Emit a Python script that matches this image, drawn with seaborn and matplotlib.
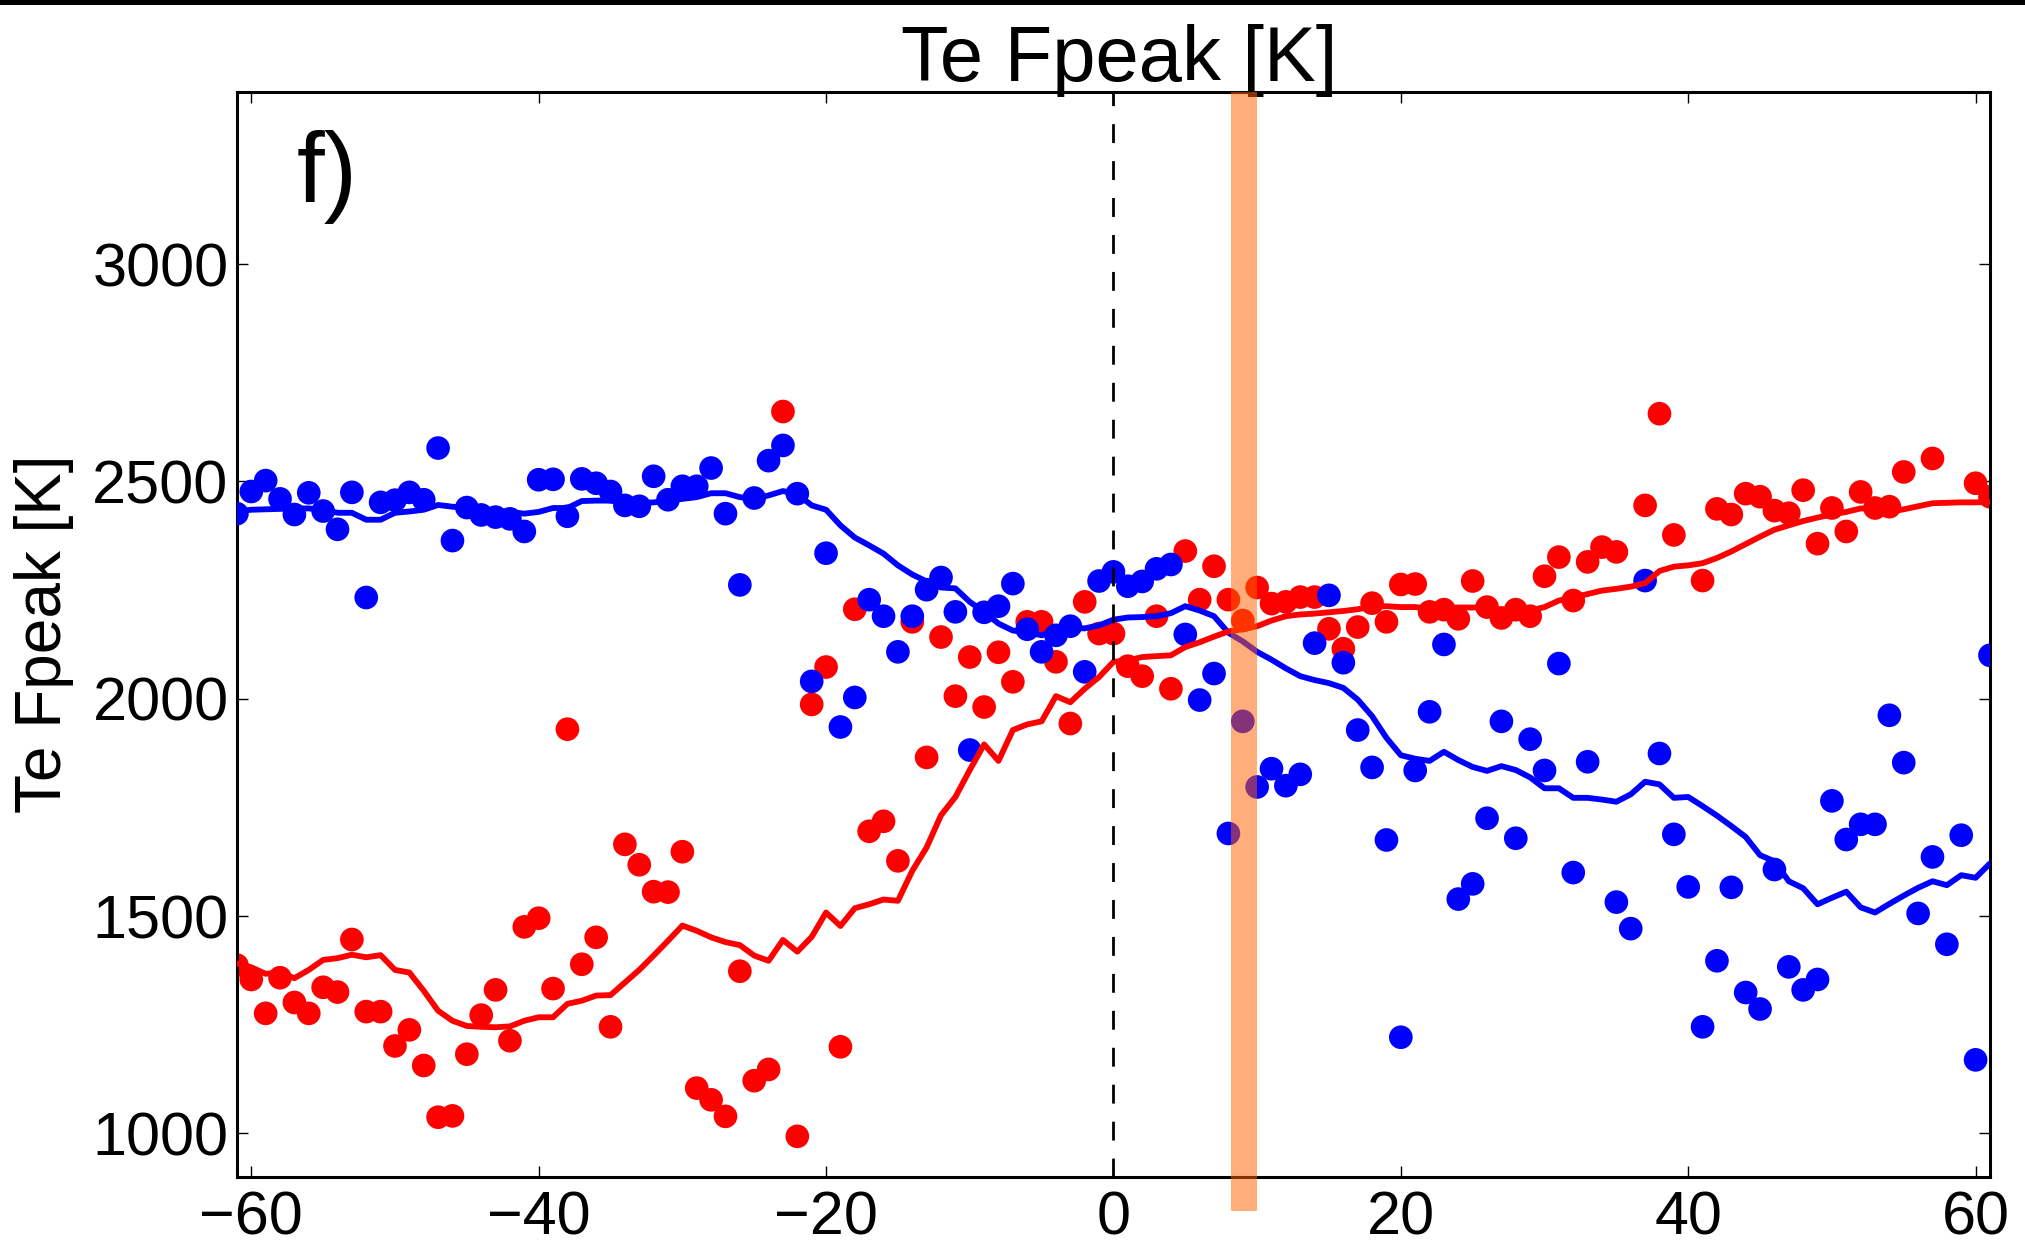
import numpy as np
import pandas as pd
import matplotlib
matplotlib.use("Agg")
import matplotlib.pyplot as plt
from matplotlib.patches import Rectangle
import seaborn as sns

# ---------------- data ----------------
x_deg = list(range(-61, 62))
nan = np.nan

red_points = [1387, 1354, 1276, 1358, 1301, 1276, 1336, 1325, 1446, 1280,
              1280, 1201, 1238, 1156, 1037, 1040, 1182, 1272, 1330, 1213,
              1475, 1495, 1333, 1930, 1389, 1451, 1245, 1665, 1618, 1556,
              1555, 1648, 1104, 1077, 1039, 1373, 1121, 1147, 2661, 993,
              1987, 2073, 1199, 2206, 1695, 1718, 1627, 2177, 1865, 2142,
              2006, 2096, 1981, 2107, 2039, 2177, 2177, 2085, 1943, 2223,
              2150, 2150, 2075, 2052, 2190, 2023, 2340, 2228, 2305, 2228,
              2180, 2256, 2219, 2223, 2234, 2234, 2161, 2115, 2165, 2220,
              2177, 2263, 2264, 2200, 2205, 2184, 2271, 2211, 2186, 2205,
              2190, 2282, 2326, 2226, 2315, 2349, 2338, nan, 2445, 2656,
              2377, nan, 2272, 2437, 2424, 2472, 2465, 2433, 2427, 2480,
              2357, 2439, 2385, 2476, 2439, 2442, 2522, nan, 2553, nan,
              nan, 2496, 2465]

blue_points = [2426, 2477, 2502, 2460, 2424, 2474, 2432, 2390, 2475, 2233,
               2452, 2457, 2475, 2458, 2577, 2364, 2440, 2423, 2418, 2414,
               2385, 2504, 2505, 2420, 2506, 2496, 2477, 2445, 2443, 2512,
               2458, 2489, 2489, 2531, 2426, 2262, 2462, 2548, 2583, 2472,
               2040, 2335, 1935, 2003, 2228, 2190, 2108, 2190, 2251, 2279,
               2200, 1882, 2199, 2213, 2265, 2160, 2108, 2146, 2167, 2062,
               2271, 2292, 2259, 2270, 2299, 2309, 2148, 1997, 2058, 1690,
               1948, 1797, 1839, 1800, 1826, 2128, 2238, 2083, 1928, 1842,
               1675, 1221, 1835, 1970, 2125, 1539, 1574, 1725, 1948, 1679,
               1907, 1835, 2081, 1600, 1855, nan, 1532, 1471, 2272, 1874,
               1688, 1567, 1245, 1397, 1566, 1324, 1286, 1607, 1383, 1330,
               1354, 1765, 1676, 1711, 1711, 1962, 1853, 1506, 1636, 1435,
               1686, 1169, 2100]

red_line = [1391, 1382, 1367, 1370, 1357, 1376, 1399, 1403, 1411, 1405,
            1410, 1376, 1370, 1328, 1282, 1259, 1247, 1245, 1244, 1246,
            1259, 1267, 1267, 1298, 1305, 1317, 1318, 1347, 1376, 1409,
            1443, 1478, 1466, 1451, 1440, 1433, 1409, 1397, 1445, 1418,
            1452, 1508, 1477, 1518, 1527, 1538, 1535, 1604, 1658, 1732,
            1774, 1836, 1895, 1857, 1928, 1941, 1948, 2006, 1992, 2023,
            2050, 2085, 2088, 2096, 2098, 2100, 2119, 2130, 2143, 2155,
            2160, 2167, 2180, 2190, 2194, 2196, 2199, 2202, 2206, 2212,
            2213, 2211, 2211, 2207, 2209, 2210, 2210, 2211, 2203, 2205,
            2203, 2211, 2226, 2233, 2241, 2249, 2253, 2258, 2266, 2294,
            2304, 2307, 2312, 2324, 2339, 2356, 2373, 2389, 2399, 2409,
            2417, 2424, 2430, 2438, 2438, 2430, 2436, 2443, 2450, 2451,
            2452, 2452, 2453]

blue_line = [2431, 2435, 2436, 2437, 2438, 2438, 2435, 2428, 2428, 2412,
             2412, 2428, 2431, 2435, 2446, 2442, 2439, 2436, 2432, 2430,
             2426, 2430, 2439, 2439, 2455, 2456, 2456, 2450, 2450, 2452,
             2456, 2460, 2464, 2473, 2473, 2464, 2460, 2468, 2478, 2471,
             2445, 2435, 2399, 2371, 2353, 2334, 2307, 2286, 2270, 2256,
             2254, 2223, 2200, 2173, 2157, 2153, 2146, 2157, 2163, 2162,
             2169, 2182, 2187, 2188, 2190, 2197, 2213, 2203, 2190, 2152,
             2132, 2108, 2090, 2070, 2052, 2043, 2036, 2025, 1998, 1960,
             1910, 1870, 1862, 1857, 1878, 1859, 1843, 1834, 1845, 1836,
             1819, 1794, 1794, 1772, 1772, 1768, 1763, 1780, 1809, 1803,
             1772, 1774, 1753, 1731, 1707, 1682, 1640, 1626, 1580, 1564,
             1527, 1542, 1556, 1520, 1508, 1528, 1547, 1565, 1580, 1571,
             1594, 1588, 1621]

x_ticks = [-60, -40, -20, 0, 20, 40, 60]
y_ticks = [1000, 1500, 2000, 2500, 3000]
band_span = (8.2, 10.0)
title_text = "Te Fpeak [K]"
ylabel_text = "Te Fpeak [K]"
panel_label = "f)"

df = pd.DataFrame({"x": x_deg, "red_pts": red_points, "blue_pts": blue_points,
                   "red_line": red_line, "blue_line": blue_line})

# ---------------- style ----------------
sns.set_style("ticks")
plt.rcParams["font.family"] = ["Liberation Sans", "DejaVu Sans"]
plt.rcParams.update({
    "axes.linewidth": 2.2,
    "text.color": "black",
    "axes.labelcolor": "black",
    "axes.edgecolor": "black",
    "xtick.color": "black",
    "ytick.color": "black",
})

fig = plt.figure(figsize=(20.25, 12.48), dpi=100)
ax = fig.add_axes([0.117, 0.0571, 0.9827 - 0.117, 0.9265 - 0.0571])

sns.scatterplot(data=df, x="x", y="red_pts", color=(1, 0, 0), s=290,
                linewidth=0, edgecolor="none", ax=ax, zorder=2)
sns.scatterplot(data=df, x="x", y="blue_pts", color=(0, 0, 1), s=290,
                linewidth=0, edgecolor="none", ax=ax, zorder=3)
sns.lineplot(data=df, x="x", y="blue_line", color=(0, 0, 1), lw=4.2,
             estimator=None, ax=ax, zorder=4)
sns.lineplot(data=df, x="x", y="red_line", color=(1, 0, 0), lw=4.2,
             estimator=None, ax=ax, zorder=5)

ax.axvline(0, color="k", lw=2.0, dashes=(6.8, 6.5), zorder=6)
ax.axvspan(band_span[0], band_span[1], ymin=-0.032, ymax=1.0,
           color=(1.0, 0.39, 0.0), alpha=0.52, lw=0, clip_on=False, zorder=7)

ax.set_xlim(-61, 61)
ax.set_ylim(900, 3397)
ax.set_xticks(x_ticks)
ax.set_yticks(y_ticks)
ax.tick_params(direction="in", length=8, width=1.0, top=True, right=True,
               labelsize=44, colors="black")
ax.tick_params(axis="x", pad=10)
ax.tick_params(axis="y", pad=6)
for sp in ax.spines.values():
    sp.set_visible(True)
    sp.set_linewidth(2.2)
    sp.set_color("black")

ax.set_xlabel("")
ax.set_ylabel(ylabel_text, fontsize=46, labelpad=13, color="black")
ax.set_title(title_text, fontsize=56, pad=8, color="black")
ax.title.set_position((0.503, 1.0))
ax.text(0.034, 0.965, panel_label, transform=ax.transAxes, fontsize=72,
        va="top", ha="left", color="black")

fig.add_artist(Rectangle((0, 1 - 5 / 1248), 1, 5 / 1248,
                         transform=fig.transFigure, color="k", lw=0))

fig.savefig("out.png", dpi=100)
